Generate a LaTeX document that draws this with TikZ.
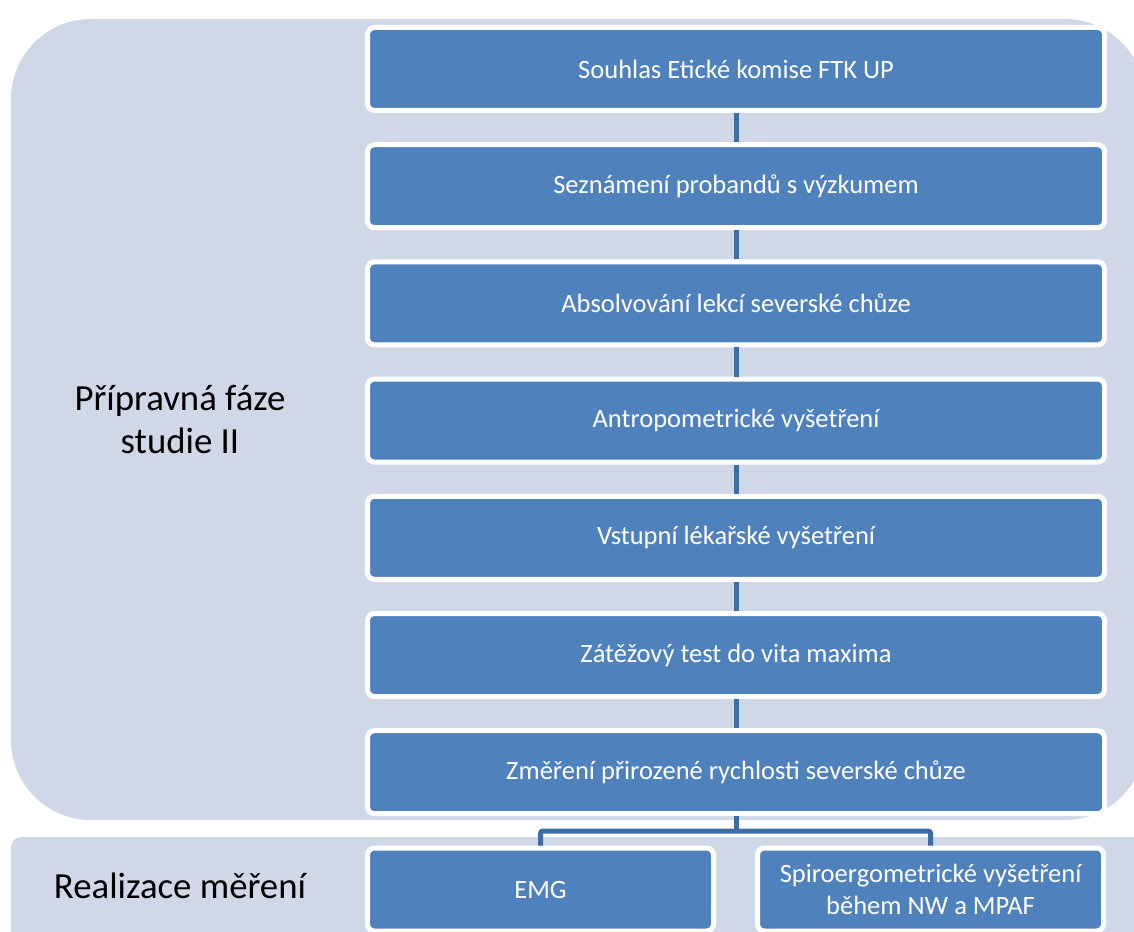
\documentclass[tikz,border=0pt]{standalone}
\usepackage{fontspec}
\setmainfont{Carlito}
\usepackage{xcolor}
\usepackage{tikz}
\usetikzlibrary{positioning, calc}
\definecolor{phasebg}{HTML}{D0D8E8}
\definecolor{stepblue}{HTML}{4F81BD}
\definecolor{linkblue}{HTML}{3F6CA1}
\tikzset{
  phase/.style={fill=phasebg, draw=none},
  stepbox/.style={fill=stepblue, draw=white, line width=5pt, rounded corners=7pt, text=white, align=center, font=\fontsize{26.5}{32.5}\selectfont, minimum width=737pt, minimum height=83pt, inner sep=0pt},
  subbox/.style={stepbox, minimum width=346pt},
  phaselabel/.style={text=black, align=center, font=\fontsize{36.8}{43}\selectfont},
  link/.style={draw=linkblue, line width=5pt, rounded corners=2pt},
}

\begin{document}
\begin{tikzpicture}[x=1pt, y=-1pt, node distance=29.2pt and 10pt]
  \clip (0,0) rectangle (1134,931);
  % Phase backgrounds
  \fill[phase, rounded corners=80pt] (11,19) rectangle (1145,820);
  \fill[phase, rounded corners=10pt] (11,837) rectangle (1180,960);

  % Phase labels
  \node[phaselabel] (prep) at (180,420) {Přípravná fáze\\studie II};
  \node[phaselabel] (real) at (180,886) {Realizace měření};

  % Preparation steps
  \node[stepbox] (ethics) at (736,69) {Souhlas Etické komise FTK UP};
  \node[stepbox, below=of ethics] (intro) {Seznámení probandů s výzkumem};
  \node[stepbox, below=of intro] (lessons) {Absolvování lekcí severské chůze};
  \node[stepbox, below=of lessons] (anthro) {Antropometrické vyšetření};
  \node[stepbox, below=of anthro] (medical) {Vstupní lékařské vyšetření};
  \node[stepbox, below=of medical] (stress) {Zátěžový test do vita maxima};
  \node[stepbox, below=of stress] (speed) {Změření přirozené rychlosti severské chůze};

  % Measurement
  \node[subbox] (emg) at (540.5,889.5) {EMG};
  \node[subbox] (spiro) at (930.5,889.5) {Spiroergometrické vyšetření\\během NW a MPAF};

  % Edges
  \draw[link] (ethics) -- (intro);
  \draw[link] (intro) -- (lessons);
  \draw[link] (lessons) -- (anthro);
  \draw[link] (anthro) -- (medical);
  \draw[link] (medical) -- (stress);
  \draw[link] (stress) -- (speed);
  \coordinate[below=15pt of speed.south] (fork);
  \draw[link] (speed) -- (fork);
  \draw[link] (emg) |- (fork) -| (spiro);
\end{tikzpicture}
\end{document}
